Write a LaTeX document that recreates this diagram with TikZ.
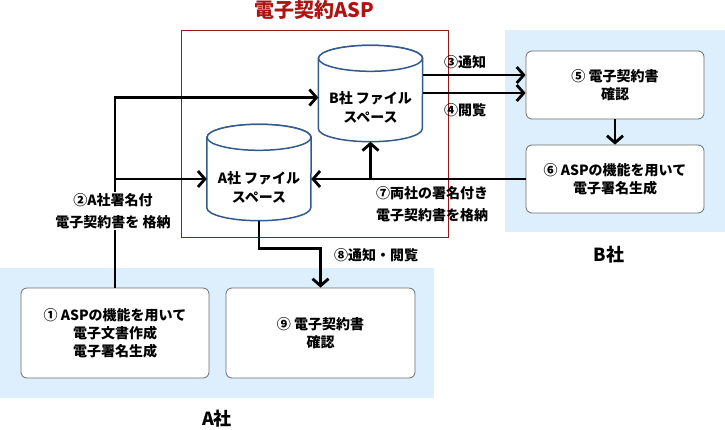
\documentclass[tikz,border=0pt]{standalone}
\usepackage{fontspec}
\setmainfont{Noto Sans CJK JP}
\definecolor{asplred}{RGB}{175, 20, 20}
\definecolor{aspframe}{RGB}{150, 25, 25}
\definecolor{areablue}{RGB}{221, 239, 252}
\definecolor{cylblue}{RGB}{50, 90, 140}
\definecolor{boxgray}{RGB}{110, 110, 110}
\usetikzlibrary{shapes.geometric, arrows.meta, positioning, calc}

\begin{document}
\begin{tikzpicture}[x=1pt, y=-1pt,
    stepbox/.style={draw=boxgray, fill=white, rounded corners=6pt, line width=0.8pt,
                    align=center, inner sep=0pt, font=\fontsize{14}{18}\selectfont\bfseries},
    filespace/.style={rectangle, minimum width=104pt, minimum height=96pt, inner sep=0pt},
    cylline/.style={draw=cylblue, line width=1.5pt, fill=white},
    arr/.style={line width=2.8pt, -{Straight Barb[length=7pt, width=16pt]}},
    lbl/.style={font=\fontsize{14}{22}\selectfont\bfseries, align=center, inner sep=1pt}]
    \useasboundingbox (0,0) rectangle (725,429);
    \fill[areablue] (505,30) rectangle (725,232);
    \fill[areablue] (0,268) rectangle (434,398);
    \draw[aspframe, line width=0.8pt] (181,30) rectangle (448,237);
    \node[font=\fontsize{20}{24}\selectfont\bfseries, text=asplred] (asp) at (314,10) {電子契約ASP};
    \node[font=\fontsize{18}{22}\selectfont\bfseries] (bco) at (609,255) {B社};
    \node[font=\fontsize{18}{22}\selectfont\bfseries] (aco) at (217,419) {A社};

    \node[filespace] (bfs) at (370.5,93.5) {};
    \node[filespace] (afs) at (259,172.5) {};
    \foreach \fs in {afs, bfs} {
        \draw[cylline] ([yshift=-13pt]\fs.north west) -- ([yshift=13pt]\fs.south west)
            arc[start angle=180, end angle=360, x radius=52pt, y radius=13pt]
            -- ([yshift=-13pt]\fs.north east)
            arc[start angle=0, end angle=180, x radius=52pt, y radius=13pt] -- cycle;
        \draw[cylline] ([yshift=-13pt]\fs.north) ellipse[x radius=52pt, y radius=13pt];
    }
    \node[lbl, inner sep=0pt, font=\fontsize{14}{19}\selectfont\bfseries] (bfstext) at (370.5,107) {B社 ファイル\\スペース};
    \node[lbl, inner sep=0pt, font=\fontsize{14}{19}\selectfont\bfseries] (afstext) at (259,187) {A社 ファイル\\スペース};

    \node[stepbox, minimum width=178pt, minimum height=68pt] (step5) at (615,85) {⑤ 電子契約書\\確認};
    \node[stepbox, minimum width=178pt, minimum height=68pt] (step6) at (615,179) {⑥ ASPの機能を用いて\\電子署名生成};
    \node[stepbox, minimum width=188pt, minimum height=90pt] (step1) at (115,333) {① ASPの機能を用いて\\電子文書作成\\電子署名生成};
    \node[stepbox, minimum width=189pt, minimum height=90pt] (step9) at (320.5,333) {⑨ 電子契約書\\確認};

    \draw[arr] (step1.north) |- ([yshift=-4pt]bfs.west);
    \draw[arr] (step1.north |- step6.west) -- (afs.west |- step6.west);
    \node[lbl, fill=white] (lbl2) at (113,211) {②A社署名付\\電子契約書を 格納};

    \draw[arr] ([yshift=10pt]step5.west -| bfs.east) -- ([yshift=10pt]step5.west);
    \draw[arr] ([yshift=-8pt]step5.west -| bfs.east) -- ([yshift=-8pt]step5.west);
    \node[lbl] (lbl3) at (465,62) {③通知};
    \node[lbl] (lbl4) at (465,110) {④閲覧};

    \draw[arr] (step5) -- (step6);

    \draw[arr] (step6.west) -- (afs.east |- step6.west);
    \draw[arr] (bfs.south |- step6.west) -- (bfs.south);
    \node[lbl] (lbl7) at (432,204) {⑦両社の署名付き\\電子契約書を格納};

    \draw[arr] (afs.south) -- ++(0,28) -| (step9.north);
    \node[lbl] (lbl8) at (376,255) {⑧通知・閲覧};
\end{tikzpicture}
\end{document}
